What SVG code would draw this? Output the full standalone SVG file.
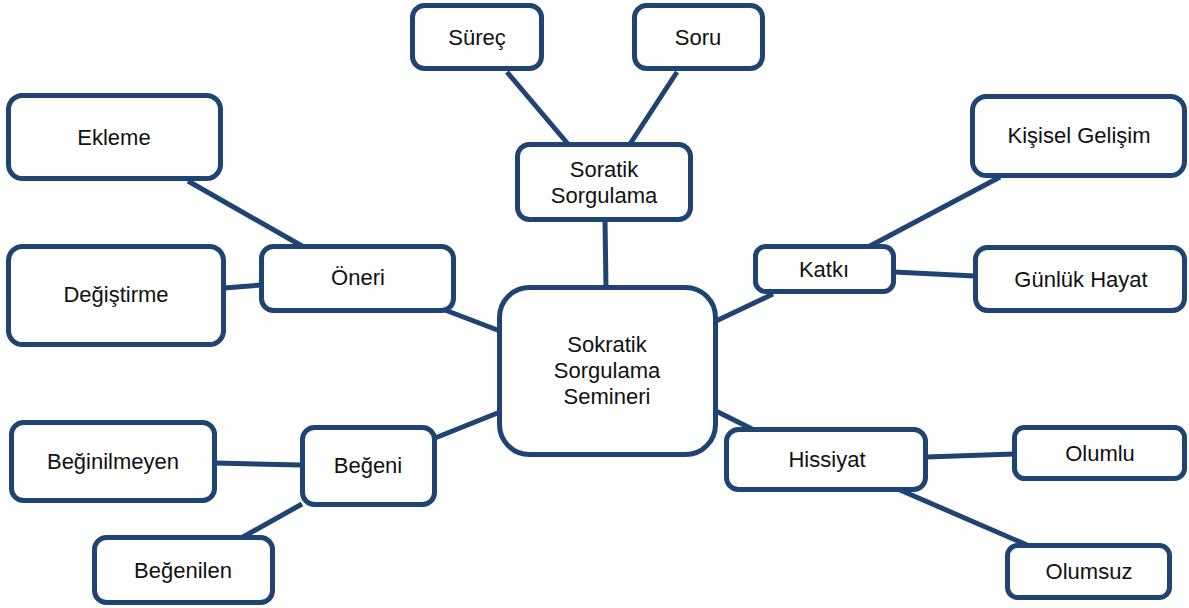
<svg xmlns="http://www.w3.org/2000/svg" width="1189" height="608" viewBox="0 0 1189 608">
<style>
.n rect{fill:#fff;stroke:#1f4373;stroke-width:5}
.n text{font-family:"Liberation Sans",Arial,sans-serif;font-size:22px;fill:#111;text-anchor:middle}
#edges line{stroke:#1f4373;stroke-width:5;stroke-linecap:butt}
</style>
<rect width="1189" height="608" fill="#fff"/>
<g id="edges">
<line x1="507" y1="72" x2="568" y2="144"/>
<line x1="677" y1="72" x2="630" y2="144"/>
<line x1="605" y1="220" x2="606" y2="288"/>
<line x1="188" y1="181" x2="302" y2="246"/>
<line x1="224" y1="288" x2="261" y2="285"/>
<line x1="445" y1="310" x2="500" y2="331"/>
<line x1="215" y1="463" x2="302" y2="465"/>
<line x1="243" y1="537" x2="302" y2="504"/>
<line x1="435" y1="438" x2="500" y2="412"/>
<line x1="1000" y1="177" x2="870" y2="246"/>
<line x1="894" y1="272" x2="975" y2="276"/>
<line x1="773" y1="294" x2="716" y2="321"/>
<line x1="716" y1="411" x2="752" y2="429"/>
<line x1="926" y1="457" x2="1014" y2="454"/>
<line x1="900" y1="490" x2="1027" y2="545"/>
</g>
<g id="n-central" class="n"><rect x="499.5" y="287.5" width="216" height="167" rx="30"/><text x="607" y="352">Sokratik</text><text x="607" y="378">Sorgulama</text><text x="607" y="404">Semineri</text></g>
<g id="n-soratik" class="n"><rect x="517.5" y="144.5" width="173" height="75" rx="12"/><text x="604" y="177">Soratik</text><text x="604" y="203">Sorgulama</text></g>
<g id="n-surec" class="n"><rect x="412.5" y="5.5" width="129" height="63" rx="12"/><text x="477" y="45">Süreç</text></g>
<g id="n-soru" class="n"><rect x="634.5" y="5.5" width="128" height="63" rx="12"/><text x="698" y="45">Soru</text></g>
<g id="n-ekleme" class="n"><rect x="8.5" y="95.5" width="212" height="83" rx="14"/><text x="114" y="145">Ekleme</text></g>
<g id="n-degistirme" class="n"><rect x="8.5" y="246.5" width="215" height="98" rx="14"/><text x="116" y="302">Değiştirme</text></g>
<g id="n-oneri" class="n"><rect x="261.5" y="246.5" width="192" height="64" rx="12"/><text x="358" y="285">Öneri</text></g>
<g id="n-begeni" class="n"><rect x="302.5" y="427.5" width="132" height="77" rx="12"/><text x="368" y="473">Beğeni</text></g>
<g id="n-beginilmeyen" class="n"><rect x="11.5" y="422.5" width="203" height="78" rx="12"/><text x="113" y="469">Beğinilmeyen</text></g>
<g id="n-begenilen" class="n"><rect x="94.5" y="537.5" width="178" height="65" rx="12"/><text x="183" y="578">Beğenilen</text></g>
<g id="n-katki" class="n"><rect x="755.5" y="246.5" width="138" height="45" rx="10"/><text x="824" y="277">Katkı</text></g>
<g id="n-kisisel" class="n"><rect x="972.5" y="96.5" width="212" height="79" rx="14"/><text x="1079" y="143">Kişisel Gelişim</text></g>
<g id="n-gunluk" class="n"><rect x="975.5" y="247.5" width="209" height="63" rx="12"/><text x="1081" y="287">Günlük Hayat</text></g>
<g id="n-hissiyat" class="n"><rect x="726.5" y="429.5" width="199" height="60" rx="12"/><text x="827" y="467">Hissiyat</text></g>
<g id="n-olumlu" class="n"><rect x="1014.5" y="427.5" width="170" height="51" rx="10"/><text x="1100" y="461">Olumlu</text></g>
<g id="n-olumsuz" class="n"><rect x="1007.5" y="545.5" width="162" height="52" rx="10"/><text x="1089" y="579">Olumsuz</text></g>
</svg>
